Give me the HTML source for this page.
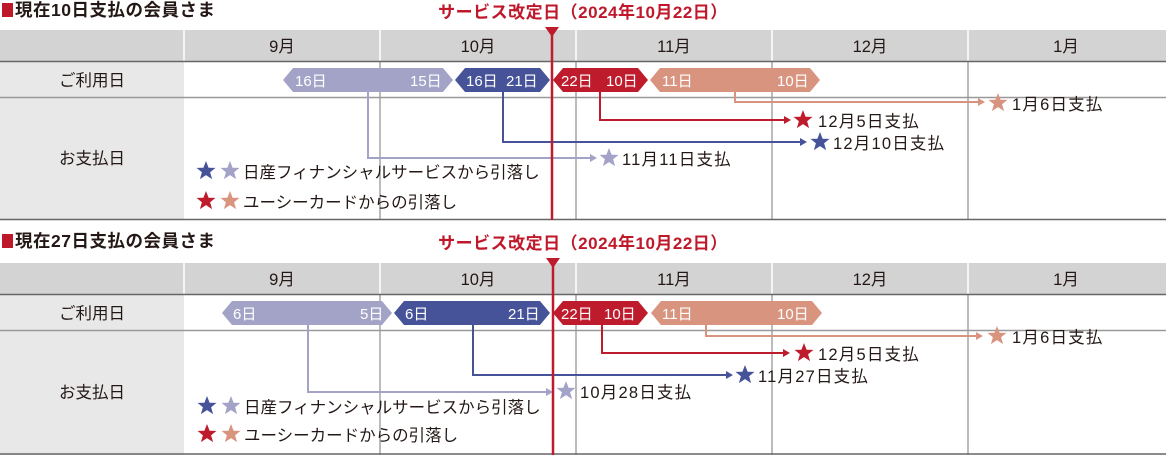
<!DOCTYPE html>
<html><head><meta charset="utf-8"><style>
html,body{margin:0;padding:0;background:#fff}
svg{display:block}
text{font-family:"Liberation Sans","Noto Sans CJK JP",sans-serif}
</style></head><body>
<svg width="1166" height="455" viewBox="0 0 1166 455" xmlns="http://www.w3.org/2000/svg">
<defs>
<polygon id="st" points="0,-10 2.6,-3.3 9.5,-3.1 4.1,1.2 6.1,8.1 0,4.1 -6.1,8.1 -4.1,1.2 -9.5,-3.1 -2.6,-3.3"/>
</defs>

<!-- ===== Section 1 ===== -->
<rect x="2" y="3" width="11" height="14" fill="#c0182b"/>
<text x="15" y="16" font-size="17.5" font-weight="bold" fill="#231815" letter-spacing="0.5">現在10日支払の会員さま</text>
<text x="583" y="18" font-size="17" font-weight="bold" fill="#c0182b" text-anchor="middle" letter-spacing="0.5">サービス改定日（2024年10月22日）</text>

<rect x="0" y="30" width="1166" height="31" fill="#d3d3d3"/>
<rect x="0" y="61" width="184" height="159" fill="#e8e8e8"/>
<g stroke="#fff" stroke-width="1.5">
<line x1="184" y1="30" x2="184" y2="61"/><line x1="380" y1="30" x2="380" y2="61"/><line x1="576" y1="30" x2="576" y2="61"/><line x1="772" y1="30" x2="772" y2="61"/><line x1="968" y1="30" x2="968" y2="61"/>
</g>
<g stroke="#777" stroke-width="1">
<line x1="380" y1="61" x2="380" y2="220"/><line x1="576" y1="61" x2="576" y2="220"/><line x1="772" y1="61" x2="772" y2="220"/><line x1="968" y1="61" x2="968" y2="220"/>
</g>
<line x1="0" y1="61.5" x2="1166" y2="61.5" stroke="#666" stroke-width="1.5"/>
<line x1="0" y1="97.5" x2="1166" y2="97.5" stroke="#999" stroke-width="1.5"/>
<line x1="0" y1="219.5" x2="1166" y2="219.5" stroke="#666" stroke-width="1.5"/>

<g font-size="16.5" fill="#231815" text-anchor="middle">
<text x="282" y="52">9月</text><text x="478" y="52">10月</text><text x="674" y="52">11月</text><text x="870" y="52">12月</text><text x="1066" y="52">1月</text>
<text x="92" y="86">ご利用日</text><text x="92" y="164">お支払日</text>
</g>

<polygon points="283,80 293,68 443,68 453,80 443,92 293,92" fill="#a3a3c8"/>
<polygon points="455,80 465,68 540,68 550,80 540,92 465,92" fill="#465399"/>
<polygon points="553,80 563,68 638,68 648,80 638,92 563,92" fill="#be1c2d"/>
<polygon points="650,80 660,68 810,68 820,80 810,92 660,92" fill="#d9947f"/>
<g font-size="15" fill="#fff">
<text x="295" y="86">16日</text><text x="410" y="86">15日</text>
<text x="466" y="86">16日</text><text x="506" y="86">21日</text>
<text x="561" y="86">22日</text><text x="606" y="86">10日</text>
<text x="662" y="86">11日</text><text x="777" y="86">10日</text>
</g>

<g fill="none" stroke-width="2">
<polyline points="368,92 368,158 592,158" stroke="#a3a3c8"/>
<polyline points="503,92 503,142 802,142" stroke="#465399"/>
<polyline points="600,92 600,120 786,120" stroke="#be1c2d"/>
<polyline points="735,92 735,102 980,102" stroke="#d9947f"/>
</g>
<polygon points="590,154 597,158 590,162" fill="#a3a3c8"/>
<polygon points="800,138 807,142 800,146" fill="#465399"/>
<polygon points="784,116 791,120 784,124" fill="#be1c2d"/>
<polygon points="978,98 985,102 978,106" fill="#d9947f"/>
<use href="#st" x="609" y="158" fill="#a3a3c8"/>
<use href="#st" x="820" y="142" fill="#465399"/>
<use href="#st" x="803" y="120" fill="#be1c2d"/>
<use href="#st" x="998" y="103" fill="#d9947f"/>
<g font-size="16.5" fill="#231815" letter-spacing="1.2">
<text x="622" y="165">11月11日支払</text>
<text x="833" y="149">12月10日支払</text>
<text x="818" y="127">12月5日支払</text>
<text x="1012" y="110">1月6日支払</text>
</g>

<use href="#st" x="206" y="171" fill="#465399"/>
<use href="#st" x="230" y="171" fill="#a3a3c8"/>
<use href="#st" x="206" y="201" fill="#be1c2d"/>
<use href="#st" x="230" y="201" fill="#d9947f"/>
<g font-size="16.5" fill="#231815">
<text x="243" y="178">日産フィナンシャルサービスから引落し</text>
<text x="243" y="208">ユーシーカードからの引落し</text>
</g>

<!-- ===== Section 2 ===== -->
<rect x="2" y="234" width="11" height="14" fill="#c0182b"/>
<text x="15" y="247" font-size="17.5" font-weight="bold" fill="#231815" letter-spacing="0.5">現在27日支払の会員さま</text>
<text x="583" y="249" font-size="17" font-weight="bold" fill="#c0182b" text-anchor="middle" letter-spacing="0.5">サービス改定日（2024年10月22日）</text>

<rect x="0" y="263" width="1166" height="31" fill="#d3d3d3"/>
<rect x="0" y="294" width="184" height="161" fill="#e8e8e8"/>
<g stroke="#fff" stroke-width="1.5">
<line x1="184" y1="263" x2="184" y2="294"/><line x1="380" y1="263" x2="380" y2="294"/><line x1="576" y1="263" x2="576" y2="294"/><line x1="772" y1="263" x2="772" y2="294"/><line x1="968" y1="263" x2="968" y2="294"/>
</g>
<g stroke="#777" stroke-width="1">
<line x1="380" y1="294" x2="380" y2="455"/><line x1="576" y1="294" x2="576" y2="455"/><line x1="772" y1="294" x2="772" y2="455"/><line x1="968" y1="294" x2="968" y2="455"/>
</g>
<line x1="0" y1="294.5" x2="1166" y2="294.5" stroke="#666" stroke-width="1.5"/>
<line x1="0" y1="330.5" x2="1166" y2="330.5" stroke="#999" stroke-width="1.5"/>
<line x1="0" y1="454" x2="1166" y2="454" stroke="#666" stroke-width="1.5"/>

<g font-size="16.5" fill="#231815" text-anchor="middle">
<text x="282" y="285">9月</text><text x="478" y="285">10月</text><text x="674" y="285">11月</text><text x="870" y="285">12月</text><text x="1066" y="285">1月</text>
<text x="92" y="319">ご利用日</text><text x="92" y="398">お支払日</text>
</g>

<polygon points="222,313 232,301 382,301 392,313 382,325 232,325" fill="#a3a3c8"/>
<polygon points="394,313 404,301 540,301 550,313 540,325 404,325" fill="#465399"/>
<polygon points="553,313 563,301 638,301 648,313 638,325 563,325" fill="#be1c2d"/>
<polygon points="651,313 661,301 812,301 822,313 812,325 661,325" fill="#d9947f"/>
<g font-size="15" fill="#fff">
<text x="233" y="319">6日</text><text x="360" y="319">5日</text>
<text x="405" y="319">6日</text><text x="508" y="319">21日</text>
<text x="561" y="319">22日</text><text x="604" y="319">10日</text>
<text x="662" y="319">11日</text><text x="777" y="319">10日</text>
</g>

<g fill="none" stroke-width="2">
<polyline points="308,325 308,392 548,392" stroke="#a3a3c8"/>
<polyline points="473,325 473,375 728,375" stroke="#465399"/>
<polyline points="602,325 602,353 785,353" stroke="#be1c2d"/>
<polyline points="706,325 706,336 978,336" stroke="#d9947f"/>
</g>
<polygon points="546,388 553,392 546,396" fill="#a3a3c8"/>
<polygon points="726,371 733,375 726,379" fill="#465399"/>
<polygon points="783,349 790,353 783,357" fill="#be1c2d"/>
<polygon points="976,332 983,336 976,340" fill="#d9947f"/>
<use href="#st" x="566" y="391" fill="#a3a3c8"/>
<use href="#st" x="745" y="375" fill="#465399"/>
<use href="#st" x="804" y="353" fill="#be1c2d"/>
<use href="#st" x="997" y="336" fill="#d9947f"/>
<g font-size="16.5" fill="#231815" letter-spacing="1.2">
<text x="580" y="398">10月28日支払</text>
<text x="758" y="382">11月27日支払</text>
<text x="818" y="360">12月5日支払</text>
<text x="1012" y="343">1月6日支払</text>
</g>

<use href="#st" x="207" y="406" fill="#465399"/>
<use href="#st" x="231" y="406" fill="#a3a3c8"/>
<use href="#st" x="207" y="434" fill="#be1c2d"/>
<use href="#st" x="231" y="434" fill="#d9947f"/>
<g font-size="16.5" fill="#231815">
<text x="244" y="413">日産フィナンシャルサービスから引落し</text>
<text x="244" y="441">ユーシーカードからの引落し</text>
</g>

<line x1="552" y1="28" x2="552" y2="220" stroke="#be1c2d" stroke-width="2.5"/>
<polygon points="545,27 559,27 552,37" fill="#be1c2d"/>
<line x1="553" y1="259" x2="553" y2="455" stroke="#be1c2d" stroke-width="2.5"/>
<polygon points="546,258 560,258 553,268" fill="#be1c2d"/>
</svg>
</body></html>
